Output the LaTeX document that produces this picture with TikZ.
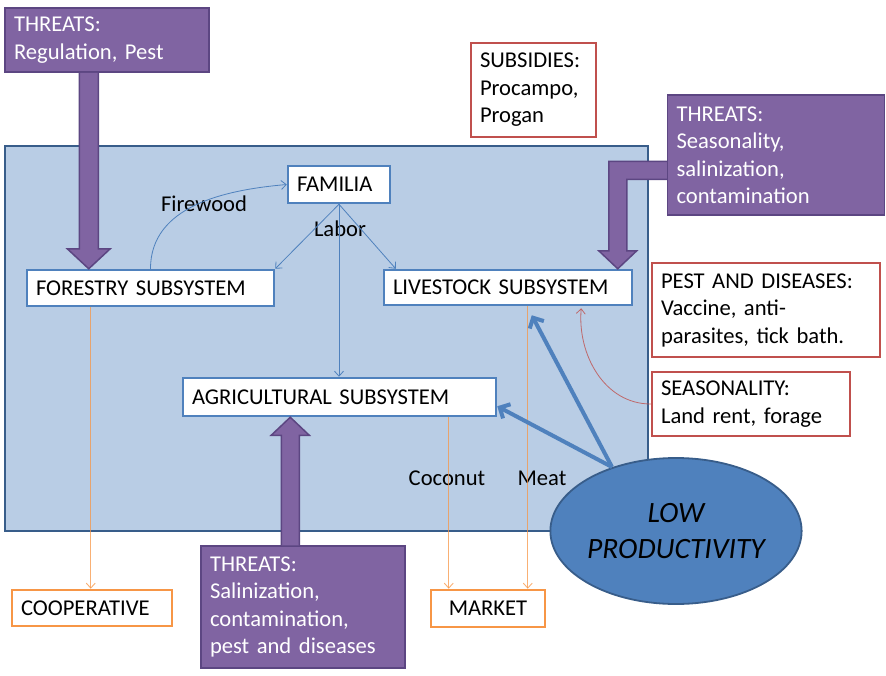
\documentclass[tikz,border=0pt]{standalone}
\usepackage{fontspec}
\setmainfont{Carlito}[WordSpace=0.85]
\usetikzlibrary{arrows.meta,shapes.geometric,calc}
\definecolor{pfill}{HTML}{8064A2}
\definecolor{pline}{HTML}{5C4682}
\definecolor{sysfill}{HTML}{B9CDE5}
\definecolor{sysline}{HTML}{385D8A}
\definecolor{accblue}{HTML}{4F81BD}
\definecolor{accred}{HTML}{C0504D}
\definecolor{accorange}{HTML}{F79646}
\tikzset{
  txt/.style={font=\fontsize{22.6}{27.5}\selectfont},
  basebox/.style={txt, draw, line width=2.5pt, fill=white, inner xsep=9pt, inner ysep=0pt, align=left},
  bluebox/.style={basebox, draw=accblue},
  redbox/.style={basebox, draw=accred},
  orangebox/.style={basebox, draw=accorange},
  threatbox/.style={txt, draw=pline, line width=1.5pt, fill=pfill, text=white, inner xsep=9pt, inner ysep=0pt, align=left},
  parrow/.style={draw=pline, line width=1.5pt, fill=pfill, line join=miter},
  thinblue/.style={draw=accblue, line width=0.8pt, -{Straight Barb[length=5pt,width=9pt]}},
  thinorange/.style={draw=accorange, draw opacity=0.75, line width=0.9pt, -{Straight Barb[length=5pt,width=9pt]}},
  thinred/.style={draw=accred, draw opacity=0.8, line width=0.8pt, -{Straight Barb[length=5pt,width=9pt]}},
  thickblue/.style={draw=accblue, line width=4pt, -{Straight Barb[length=8pt,width=16pt]}},
  lbl/.style={txt, inner sep=0pt}
}
\begin{document}
\begin{tikzpicture}[x=1pt,y=-1pt]
\useasboundingbox (0,0) rectangle (886,675);
% system container
\node[draw=sysline, line width=2.5pt, fill=sysfill, inner sep=0pt, minimum width=643pt, minimum height=385pt] (sys) at (326.5,338.5) {};
% low productivity ellipse
\node[ellipse, draw=sysline, line width=1.8pt, fill=accblue, inner sep=0pt, minimum width=242pt, minimum height=146pt, align=center, font=\fontsize{29.5}{36}\selectfont\itshape] (low) at (676,531) {LOW\\PRODUCTIVITY};
% boxes
\node[threatbox, text width=186pt, minimum height=64pt] (t1) at (107,40) {THREATS:\\Regulation, Pest};
\node[redbox, text width=107pt, minimum height=94pt] (sub) at (533.5,90) {SUBSIDIES:\\Procampo,\\Progan};
\node[threatbox, text width=199pt, minimum height=120pt] (t2) at (776,155) {THREATS:\\Seasonality,\\salinization,\\contamination};
\node[bluebox, text width=84pt, minimum height=37pt] (fam) at (339,184.5) {FAMILIA};
\node[bluebox, text width=229pt, minimum height=36pt] (for) at (150.5,288) {FORESTRY SUBSYSTEM};
\node[bluebox, text width=230pt, minimum height=35pt] (liv) at (508,287.5) {LIVESTOCK SUBSYSTEM};
\node[bluebox, text width=295pt, minimum height=38pt] (agr) at (339.5,397) {AGRICULTURAL SUBSYSTEM};
\node[redbox, text width=210pt, minimum height=94pt] (pest) at (766,310) {PEST AND DISEASES:\\Vaccine, anti-\\parasites, tick bath.};
\node[redbox, text width=180pt, minimum height=64pt] (sea) at (751,404) {SEASONALITY:\\Land rent, forage};
\node[orangebox, text width=142pt, minimum height=36pt] (coop) at (92,608) {COOPERATIVE};
\node[orangebox, text width=96pt, minimum height=37pt, align=center] (mkt) at (488,608.5) {MARKET};
\node[threatbox, text width=186pt, minimum height=122pt] (t3) at (303,607) {THREATS:\\Salinization,\\contamination,\\pest and diseases};
% labels
\node[lbl] (lfw) at (204,204) {Firewood};
\node[lbl] (llab) at (340,229) {Labor};
\node[lbl] (lcoc) at (447,478) {Coconut};
\node[lbl] (lmeat) at (542,478) {Meat};
% purple block arrows
\coordinate (a1s) at ($(t1.south west)+(84.5,0)$);
\coordinate (a1t) at (a1s |- for.north);
\draw[parrow] ($(a1s)+(-9.5,0)$) -- ($(a1t)+(-9.5,-20)$) -- ($(a1t)+(-21.5,-20)$) -- (a1t) -- ($(a1t)+(21.5,-20)$) -- ($(a1t)+(9.5,-20)$) -- ($(a1s)+(9.5,0)$);
\coordinate (a3s) at ($(t3.north west)+(90,0)$);
\coordinate (a3t) at (a3s |- agr.south);
\draw[parrow] ($(a3s)+(-9,0)$) -- ($(a3t)+(-9,18)$) -- ($(a3t)+(-19,18)$) -- (a3t) -- ($(a3t)+(19,18)$) -- ($(a3t)+(9,18)$) -- ($(a3s)+(9,0)$);
\coordinate (a2s) at ($(t2.north west)+(0,76)$);
\coordinate (a2x) at ($(liv.north west)+(235,0)$);
\coordinate (a2c) at (a2x |- a2s);
\draw[parrow] ($(a2s)+(0,-9)$) -- ($(a2c)+(-9,-9)$) -- ($(a2x)+(-9,-18)$) -- ($(a2x)+(-19,-18)$) -- (a2x) -- ($(a2x)+(19,-18)$) -- ($(a2x)+(9,-18)$) -- ($(a2c)+(9,9)$) -- ($(a2s)+(0,9)$);
% thin connectors
\draw[thinblue] (for.north) to[out=90,in=185] (fam.west);
\draw[thinblue] (fam.south) -- (for.north east);
\draw[thinblue] (fam.south) -- ($(liv.north west)+(13,0)$);
\draw[thinblue] (fam.south) -- (fam.south |- agr.north);
\coordinate (fo) at ($(for.south west)+(65,0)$);
\draw[thinorange] (fo) -- (fo |- coop.north);
\coordinate (ao) at ($(agr.south west)+(267,0)$);
\draw[thinorange] (ao) -- (ao |- mkt.north);
\coordinate (lo) at ($(liv.south west)+(145,0)$);
\draw[thinorange] (lo) -- (lo |- mkt.north);
\draw[thinred] (sea.west) to[out=180,in=-95] ($(liv.south east)+(-52,2)$);
% thick blue arrows
\coordinate (ls) at ($(low.center)+(-64,-64)$);
\draw[thickblue] (ls) -- ($(agr.south east)+(0,-11)$);
\draw[thickblue] (ls) -- ($(liv.south west)+(149,9)$);
\end{tikzpicture}
\end{document}
